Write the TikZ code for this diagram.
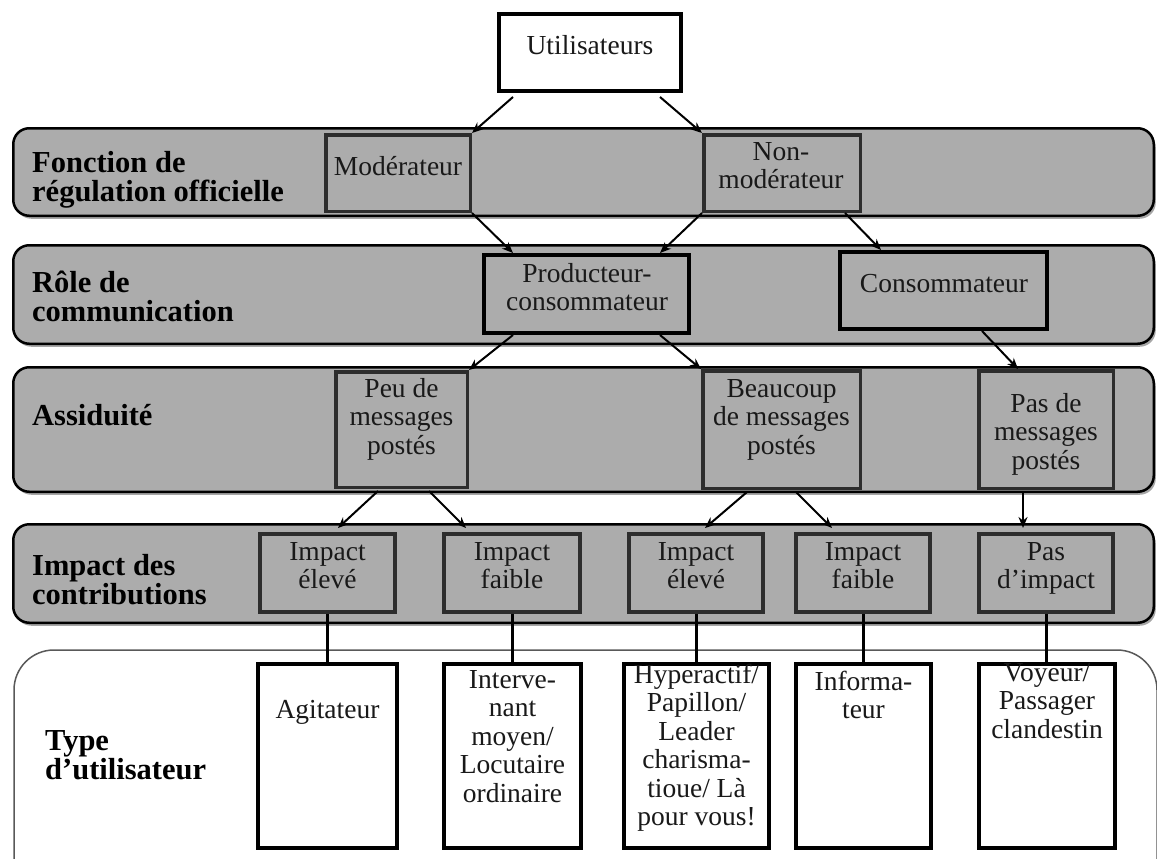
\documentclass[tikz,border=0pt]{standalone}
\usepackage{fontspec}
\setmainfont{Liberation Serif}
\usetikzlibrary{calc,shadows,arrows.meta}
\definecolor{bandgray}{RGB}{172,172,172}
\definecolor{boxedge}{RGB}{45,45,45}
\definecolor{txtc}{RGB}{25,25,25}
\begin{document}
\begin{tikzpicture}[x=1pt,y=-1pt,
  band/.style={draw=black,line width=2.5pt,fill=bandgray,rounded corners=16pt,
    minimum width=1140.5pt,inner sep=0pt,
    drop shadow={shadow xshift=2pt,shadow yshift=-3pt,opacity=0.35,fill=black}},
  gbox/.style={draw=boxedge,line width=3.5pt,fill=bandgray,inner sep=0pt},
  kbox/.style={draw=black,line width=4pt,fill=bandgray,inner sep=0pt},
  wbox/.style={draw=black,line width=4pt,fill=white,inner sep=0pt},
  txt/.style={anchor=base,inner sep=0pt,align=center,text=txtc,
    font=\fontsize{27.5}{28.5}\selectfont},
  lab/.style={anchor=base west,inner sep=0pt,align=left,text=black,
    font=\fontsize{30.5}{29}\selectfont\bfseries},
  arr/.style={draw=black,line width=2pt,-{Stealth[length=11pt,width=9pt]}},
  conn/.style={draw=black,line width=3pt}]
\useasboundingbox (0,0) rectangle (1157,859);

% bottom white band
\begin{scope}
\clip (0,0) rectangle (1157,859);
\node[draw=black!65,line width=1.5pt,fill=white,rounded corners=40pt,
  minimum width=1143pt,minimum height=250pt,inner sep=0pt] (band5) at (585.5,775) {};
\end{scope}

% grey bands
\node[band,minimum height=87.5pt] (band1) at (583.5,172) {};
\node[band,minimum height=98.5pt] (band2) at (583.5,294.5) {};
\node[band,minimum height=124.5pt] (band3) at (583.5,429.5) {};
\node[band,minimum height=98.5pt] (band4) at (583.5,573.5) {};

% band labels (anchor = baseline of last line)
\node[lab] (l1) at (32,201) {Fonction de\\régulation officielle};
\node[lab] (l2) at (32,321.5) {Rôle de\\communication};
\node[lab] (l3) at (32,425) {Assiduité};
\node[lab] (l4) at (32,604.5) {Impact des\\contributions};
\node[lab] (l5) at (45,779) {Type\\d’utilisateur};

% top box
\node[wbox,minimum width=182pt,minimum height=77pt] (u) at (590,52.5) {};
\node[txt] at (590,55) {Utilisateurs};

% level 1
\node[gbox,minimum width=144.5pt,minimum height=76.5pt] (mod) at (398,173) {};
\node[txt] at (398,175) {Modérateur};
\node[gbox,minimum width=156.5pt,minimum height=76.5pt] (nonmod) at (782,173) {};
\node[txt] at (781,188.5) {Non-\\modérateur};

% level 2
\node[kbox,minimum width=205pt,minimum height=78pt] (prod) at (586.5,294) {};
\node[txt] at (587,310.5) {Producteur-\\consommateur};
\node[kbox,minimum width=207pt,minimum height=77pt] (cons) at (943.5,290.5) {};
\node[txt] at (944,292) {Consommateur};

% level 3
\node[gbox,minimum width=131.5pt,minimum height=115.5pt] (peu) at (401.5,429.5) {};
\node[txt] at (401.5,454) {Peu de\\messages\\postés};
\node[gbox,minimum width=157.5pt,minimum height=117.5pt] (beau) at (781.5,429.5) {};
\node[txt] at (781.5,454) {Beaucoup\\de messages\\postés};
\node[gbox,minimum width=134.5pt,minimum height=117.5pt] (pas) at (1046,429.5) {};
\node[txt] at (1046,469) {Pas de\\messages\\postés};

% level 4
\node[gbox,line width=4pt,minimum width=135pt,minimum height=78pt] (ie1) at (327.5,573) {};
\node[txt] at (327.5,588.5) {Impact\\élevé};
\node[gbox,line width=4pt,minimum width=136pt,minimum height=78pt] (if1) at (512,573) {};
\node[txt] at (512,588.5) {Impact\\faible};
\node[gbox,line width=4pt,minimum width=134pt,minimum height=78pt] (ie2) at (696,573) {};
\node[txt] at (696,588.5) {Impact\\élevé};
\node[gbox,line width=4pt,minimum width=134pt,minimum height=78pt] (if2) at (863,573) {};
\node[txt] at (863,588.5) {Impact\\faible};
\node[gbox,line width=4pt,minimum width=134pt,minimum height=78pt] (pi) at (1046,573) {};
\node[txt] at (1046,588.5) {Pas\\d’impact};

% level 5
\node[wbox,minimum width=139pt,minimum height=184pt] (agit) at (327.5,756) {};
\node[txt] at (327.5,718) {Agitateur};
\node[wbox,minimum width=137pt,minimum height=184pt] (inter) at (512.5,756) {};
\node[txt] at (512.5,802) {Interve-\\nant\\moyen/\\Locutaire\\ordinaire};
\node[wbox,minimum width=145pt,minimum height=184pt] (hyper) at (696.5,756) {};
\node[txt] at (696.5,825.5) {Hyperactif/\\Papillon/\\Leader\\charisma-\\tioue/ Là\\pour vous!};
\node[wbox,minimum width=135pt,minimum height=184pt] (info) at (863.5,756) {};
\node[txt] at (863.5,718.5) {Informa-\\teur};
\node[wbox,minimum width=136pt,minimum height=184pt] (voy) at (1047,756) {};
\node[txt] at (1047,738) {Voyeur/\\Passager\\clandestin};

% arrows
\draw[arr] ($(u.south west)+(16,4)$) -- (mod.north east);
\draw[arr] ($(u.south east)+(-23,4)$) -- (nonmod.north west);
\draw[arr] (mod.south east) -- ($(prod.north west)+(31,0)$);
\draw[arr] (nonmod.south west) -- ($(prod.north east)+(-31,0)$);
\draw[arr] ($(nonmod.south east)+(-17,0)$) -- ($(cons.north west)+(43,0)$);
\draw[arr] ($(prod.south west)+(31,0)$) -- (peu.north east);
\draw[arr] ($(prod.south east)+(-31,0)$) -- (beau.north west);
\draw[arr] ($(cons.south east)+(-67,0)$) -- ($(pas.north west)+(41,0)$);
\draw[arr] ($(peu.south west)+(44,2)$) -- ($(ie1.north west)+(80,-4)$);
\draw[arr] ($(peu.south east)+(-40,2)$) -- ($(if1.north west)+(24,-4)$);
\draw[arr] ($(beau.south west)+(46,2)$) -- ($(ie2.north west)+(78,-4)$);
\draw[arr] ($(beau.south east)+(-66,2)$) -- ($(if2.north west)+(38,-4)$);
\draw[arr] ($(pas.south)+(-23,2)$) -- ($(pi.north)+(-23,-4)$);

% plain connectors
\draw[conn] (ie1.south) -- (ie1.south |- agit.north);
\draw[conn] (if1.south) -- (if1.south |- inter.north);
\draw[conn] (ie2.south) -- (ie2.south |- hyper.north);
\draw[conn] (if2.south) -- (if2.south |- info.north);
\draw[conn] (pi.south) -- (pi.south |- voy.north);
\end{tikzpicture}
\end{document}
